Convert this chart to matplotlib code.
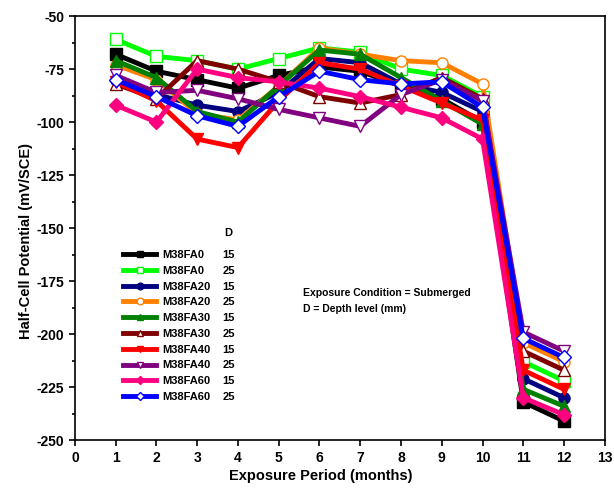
import numpy as np
import matplotlib
matplotlib.use('Agg')
from matplotlib import pyplot as plt

plt.rcParams['font.family'] = ['Liberation Sans', 'DejaVu Sans']
plt.rcParams['font.weight'] = 'bold'
plt.rcParams['axes.unicode_minus'] = False

months = [1, 2, 3, 4, 5, 6, 7, 8, 9, 10, 11, 12]

names = ['M38FA0', 'M38FA0', 'M38FA20', 'M38FA20', 'M38FA30', 'M38FA30',
         'M38FA40', 'M38FA40', 'M38FA60', 'M38FA60']
depths = ['15', '25', '15', '25', '15', '25', '15', '25', '15', '25']

fa0_15 = [-68, -76, -80, -84, -78, -74, -76, -83, -89, -100, -232, -241]
fa0_25 = [-61, -69, -71, -75, -70, -65, -67, -75, -78, -88, -213, -222]
fa20_15 = [-80, -87, -92, -95, -86, -70, -72, -82, -86, -95, -221, -230]
fa20_25 = [-73, -80, -96, -99, -83, -65, -68, -71, -72, -82, -204, -213]
fa30_15 = [-71, -79, -95, -100, -83, -66, -68, -79, -90, -101, -226, -234]
fa30_25 = [-82, -89, -71, -75, -81, -88, -91, -87, -79, -89, -208, -217]
fa40_15 = [-81, -90, -108, -112, -90, -72, -75, -83, -91, -99, -217, -226]
fa40_25 = [-78, -86, -85, -89, -94, -98, -102, -87, -80, -90, -199, -208]
fa60_15 = [-92, -100, -75, -79, -81, -84, -88, -93, -98, -108, -230, -238]
fa60_25 = [-80, -88, -97, -102, -88, -76, -80, -82, -81, -93, -202, -211]

series = [fa0_15, fa0_25, fa20_15, fa20_25, fa30_15, fa30_25,
          fa40_15, fa40_25, fa60_15, fa60_25]
colors = ['#000000', '#00FF00', '#000080', '#FF8000', '#008000', '#800000',
          '#FF0000', '#800080', '#FF0080', '#0000FF']
markers = ['s', 's', 'o', 'o', '^', '^', 'v', 'v', 'D', 'D']

fig = plt.figure(figsize=(6.14, 4.88), dpi=100)
ax = fig.add_axes([0.122, 0.098, 0.863, 0.869])

for i in range(len(series)):
    filled = depths[i] == '15'
    ms = 7.5 if markers[i] == 'D' else 8
    ax.plot(months, series[i], color=colors[i], lw=3.5, marker=markers[i],
            ms=ms, mfc=colors[i] if filled else 'white', mec=colors[i],
            mew=1.0, label=names[i])

ax.set_xlim(0, 13)
ax.set_ylim(-250, -50)
ax.set_xticks(np.arange(0, 14, 1))
ax.set_yticks(np.arange(-250, -49, 25))
ax.set_yticks(np.arange(-250, -49, 12.5), minor=True)
ax.tick_params(axis='both', which='major', labelsize=10, length=4, width=1.2)
ax.tick_params(axis='y', which='minor', length=2.5, width=1.2)
for sp in ax.spines.values():
    sp.set_linewidth(1.2)
for lab in ax.get_xticklabels() + ax.get_yticklabels():
    lab.set_fontweight('bold')

ax.set_xlabel('Exposure Period (months)', fontsize=10.5, fontweight='bold', labelpad=3)
ax.set_ylabel('Half-Cell Potential (mV/SCE)', fontsize=10.5, fontweight='bold', labelpad=3)
ax.xaxis.label.set_x(0.464)
ax.yaxis.label.set_y(0.47)

leg = ax.legend(loc='upper left', bbox_to_anchor=(0.072, 0.472), frameon=False,
                prop={'size': 8, 'weight': 'bold'}, handlelength=3.0,
                handletextpad=0.5, labelspacing=0.52, markerscale=0.6)

fig.canvas.draw()
inv = ax.transAxes.inverted()
for t, d in zip(leg.get_texts(), depths):
    bb = t.get_window_extent()
    yc = inv.transform((0, (bb.y0 + bb.y1) / 2))[1]
    ax.text(0.29, yc, d, transform=ax.transAxes, fontsize=8,
            fontweight='bold', ha='center', va='center')
bb = leg.get_texts()[0].get_window_extent()
ytop = inv.transform((0, bb.y1))[1]
ax.text(0.29, ytop + 0.028, 'D', transform=ax.transAxes, fontsize=8,
        fontweight='bold', ha='center', va='bottom')

ax.text(0.43, 0.346, 'Exposure Condition = Submerged', transform=ax.transAxes,
        fontsize=7.5, fontweight='bold', va='center')
ax.text(0.43, 0.31, 'D = Depth level (mm)', transform=ax.transAxes,
        fontsize=7.5, fontweight='bold', va='center')

fig.savefig('out.png', dpi=100)
